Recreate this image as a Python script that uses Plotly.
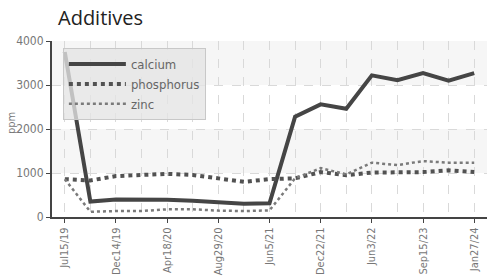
import plotly.graph_objects as go

# ---- data ----
tick_labels = ["Jul15/19", "Dec14/19", "Apr18/20", "Aug29/20", "Jun5/21",
               "Dec22/21", "Jun3/22", "Sep15/23", "Jan27/24"]  # every second sample is labelled
calcium = [3750, 350, 400, 400, 390, 370, 340, 300, 310,
           2280, 2560, 2460, 3220, 3110, 3270, 3100, 3270]
phosphorus = [860, 830, 930, 950, 980, 955, 880, 800, 860,
              880, 1020, 950, 1010, 1020, 1020, 1060, 1020]
zinc = [860, 120, 135, 135, 175, 175, 145, 135, 150,
        880, 1110, 970, 1235, 1180, 1270, 1235, 1235]

samples = list(range(len(calcium)))
label_pos = samples[::2]

fig = go.Figure()
fig.add_trace(go.Scatter(x=samples, y=calcium, name="calcium", mode="lines",
                         line=dict(color="#454545", width=4)))
fig.add_trace(go.Scatter(x=samples, y=phosphorus, name="phosphorus", mode="lines",
                         line=dict(color="#525252", width=4, dash="dot")))
fig.add_trace(go.Scatter(x=samples, y=zinc, name="zinc", mode="lines",
                         line=dict(color="#7a7a7a", width=2.5, dash="dot")))

# alternating background bands
for y0, y1 in [(1000, 2000), (3000, 4000)]:
    fig.add_shape(type="rect", xref="paper", yref="y", x0=0, x1=1, y0=y0, y1=y1,
                  fillcolor="#f6f6f6", line_width=0, layer="below")

cond = "DejaVu Sans Condensed, Liberation Sans Narrow, Roboto, sans-serif"
xtick_font = dict(family=cond, size=11, color="#777")
ytick_font = dict(family=cond, size=12, color="#777")

fig.update_layout(
    width=491, height=277,
    margin=dict(l=52, r=4, t=41, b=60, autoexpand=False),
    paper_bgcolor="white", plot_bgcolor="white",
    title=dict(text="Additives", x=58 / 491, xanchor="left", xref="container",
               y=1 - 18 / 277, yanchor="middle", yref="container", automargin=False,
               font=dict(family="Open Sans, Noto Sans, sans-serif", size=20, color="#222")),
    showlegend=True,
    legend=dict(x=0.025, y=0.96, xanchor="left", yanchor="top",
                bgcolor="rgba(228,228,228,0.78)", bordercolor="#c8c8c8", borderwidth=1,
                font=dict(family=cond, size=13, color="#666"),
                tracegroupgap=0, itemwidth=57),
    xaxis=dict(range=[-0.5, len(samples) - 0.5], tickmode="array",
               tickvals=label_pos, ticktext=tick_labels, tickangle=-90,
               tickfont=xtick_font, ticks="outside", ticklen=4, tickcolor="#444",
               showline=True, linecolor="#444", linewidth=2, automargin=False,
               showgrid=True, gridcolor="#d9d9d9", griddash="dash", gridwidth=1,
               minor=dict(dtick=1, tick0=0, showgrid=True, gridcolor="#d9d9d9",
                          griddash="dash", ticks=""),
               zeroline=False),
    yaxis=dict(range=[0, 4000], tickvals=[0, 1000, 2000, 3000, 4000],
               tickfont=ytick_font, ticks="outside", ticklen=4, tickcolor="#444",
               showline=True, linecolor="#444", linewidth=2, automargin=False,
               showgrid=True, gridcolor="#d9d9d9", griddash="dash", gridwidth=1,
               zeroline=False),
)

fig.add_annotation(text="ppm", xref="paper", yref="paper", x=0, y=0.5,
                   xanchor="center", yanchor="middle",
                   xshift=-41, yshift=6, textangle=-90, showarrow=False,
                   font=dict(family=cond, size=11, color="#777"))

fig.write_html("out.html", config={"displayModeBar": False},
               post_script="document.body.style.margin='0';")
